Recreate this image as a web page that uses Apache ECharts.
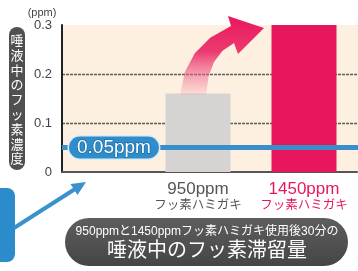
<!DOCTYPE html>
<html>
<head>
<meta charset="utf-8">
<script src="https://cdn.jsdelivr.net/npm/echarts@6/dist/echarts.min.js"></script>
<style>
  html, body { margin: 0; padding: 0; background: #fff; }
  #chart { width: 358px; height: 271px; }
</style>
</head>
<body>
<div id="chart"></div>
<script>
// data
const categories = ['950ppm', '1450ppm']
const subLabels = ['フッ素ハミガキ', 'フッ素ハミガキ']
const values = [0.16, 0.30]
const baseline = 0.05
const yMin = 0
const yMax = 0.3
const yStep = 0.1
const unit = '(ppm)'
const yTitle = '唾液中のフッ素濃度'
const caption1 = '950ppmと1450ppmフッ素ハミガキ使用後30分の'
const caption2 = '唾液中のフッ素滞留量'

const FONT = "'Liberation Sans', 'Noto Sans CJK JP', sans-serif"
const barColors = ['#d5d4d2', '#e8175d']

const grad = (stops) => ({ type: 'linear', x: 0, y: 0, x2: 0, y2: 1, colorStops: stops })

const chart = echarts.init(document.getElementById('chart'))

const option = {
  animation: false,
  grid: [
    { left: 62, right: 0, top: 25, bottom: 99, show: true, borderWidth: 0, backgroundColor: '#fdf0e1' },
    { left: 145, right: 1, top: 25, bottom: 99 },
  ],
  xAxis: [
    {
      type: 'value', gridIndex: 0, min: 0, max: 1,
      axisLine: { show: true, lineStyle: { color: '#555', width: 2, type: [3, 1] } },
      axisTick: { show: false }, axisLabel: { show: false }, splitLine: { show: false },
    },
    {
      type: 'category', gridIndex: 1, data: categories,
      axisLine: { show: false }, axisTick: { show: false },
      axisLabel: {
        margin: 8,
        interval: 0,
        formatter: (v, i) => {
          const k = i === 1 ? 'r' : 'g'
          return '{' + k + '|' + v + '}\n{' + k + 's|' + subLabels[i] + '}'
        },
        rich: {
          g: { color: '#555', fontSize: 17, fontFamily: FONT, lineHeight: 18 },
          gs: { color: '#555', fontSize: 12.5, fontFamily: FONT, lineHeight: 16 },
          r: { color: '#e5195c', fontSize: 17, fontFamily: FONT, lineHeight: 18 },
          rs: { color: '#e5195c', fontSize: 12.5, fontFamily: FONT, lineHeight: 16 },
        },
      },
    },
  ],
  yAxis: [
    {
      type: 'value', gridIndex: 0, min: yMin, max: yMax, interval: yStep,
      name: unit, nameLocation: 'end', nameGap: 6,
      nameTextStyle: { color: '#444', fontSize: 11, fontFamily: FONT, padding: [0, 40, 0, 0] },
      axisLine: { show: true, lineStyle: { color: '#222', width: 2 } },
      axisTick: { show: false },
      axisLabel: { color: '#444', fontSize: 13, fontFamily: FONT, margin: 10, formatter: v => (v === 0 ? '0' : v.toFixed(1)) },
      splitLine: { show: true, showMinLine: false, showMaxLine: false, lineStyle: { color: '#5e5e5e', width: 1.3, type: [3, 1] } },
    },
    { type: 'value', gridIndex: 1, min: yMin, max: yMax, show: false },
  ],
  series: [
    {
      type: 'bar', xAxisIndex: 1, yAxisIndex: 1, barWidth: 65,
      data: values.map((v, i) => ({ value: v, itemStyle: { color: barColors[i] } })),
      z: 2,
    },
    {
      type: 'line', xAxisIndex: 0, yAxisIndex: 0, data: [], z: 5,
      markLine: {
        silent: true,
        symbol: ['none', 'none'],
        lineStyle: { color: '#3a8fc8', width: 5, type: 'solid' },
        label: {
          position: 'insideStartTop',
          distance: [7, 0],
          verticalAlign: 'middle',
          formatter: () => baseline.toFixed(2) + 'ppm',
          color: '#fff', fontSize: 19, fontFamily: FONT,
          textBorderColor: '#1f6fa6', textBorderWidth: 1.5,
          backgroundColor: '#2f8dcb', borderColor: '#dcecf7', borderWidth: 1.5,
          borderRadius: 12, padding: [2, 8, 1, 8],
        },
        data: [{ yAxis: baseline }],
      },
    },
  ],
  graphic: [
    // vertical axis title pill
    { type: 'rect', shape: { x: 9, y: 27, width: 16, height: 143, r: 8 }, style: { fill: '#505050' } },
    {
      type: 'text', x: 17, y: 34,
      style: { text: yTitle.split('').join('\n'), fill: '#fff', fontSize: 13, lineHeight: 14.8, fontFamily: FONT, align: 'center', verticalAlign: 'top' },
    },
    // red arrow
    {
      type: 'polygon', z: 10,
      shape: {
        points: [[180, 95], [184.7, 72.3], [194.8, 53.3], [210.2, 37.8], [231, 26], [228, 16], [264, 28],
          [238, 54], [234, 43], [222.5, 50.8], [214, 62], [208.5, 76.8], [206, 95]],
      },
      style: {
        fill: grad([
          { offset: 0, color: '#e8175d' },
          { offset: 0.45, color: '#ec3a70' },
          { offset: 1, color: 'rgba(240,120,150,0.15)' },
        ]),
      },
    },
    // blue box and arrow bottom-left
    { type: 'rect', shape: { x: -10, y: 188, width: 25, height: 74, r: 8 }, style: { fill: '#2c8bcb' } },
    { type: 'polyline', shape: { points: [[14, 228], [75, 189]] }, style: { stroke: '#3a92cc', lineWidth: 4 } },
    { type: 'polygon', shape: { points: [[86, 182], [77.5, 195], [70.5, 184]] }, style: { fill: '#3a92cc' } },
    // caption pill
    {
      type: 'rect', shape: { x: 65, y: 218, width: 283, height: 48, r: 24 },
      style: { fill: grad([{ offset: 0, color: '#5e5e5e' }, { offset: 1, color: '#454545' }]) },
    },
    { type: 'text', x: 207, y: 232, style: { text: caption1, fill: '#fff', fontSize: 12, fontFamily: FONT, align: 'center', verticalAlign: 'middle' } },
    { type: 'text', x: 207, y: 251, style: { text: caption2, fill: '#fff', fontSize: 20, fontFamily: FONT, align: 'center', verticalAlign: 'middle' } },
  ],
}

chart.setOption(option)
</script>
</body>
</html>
